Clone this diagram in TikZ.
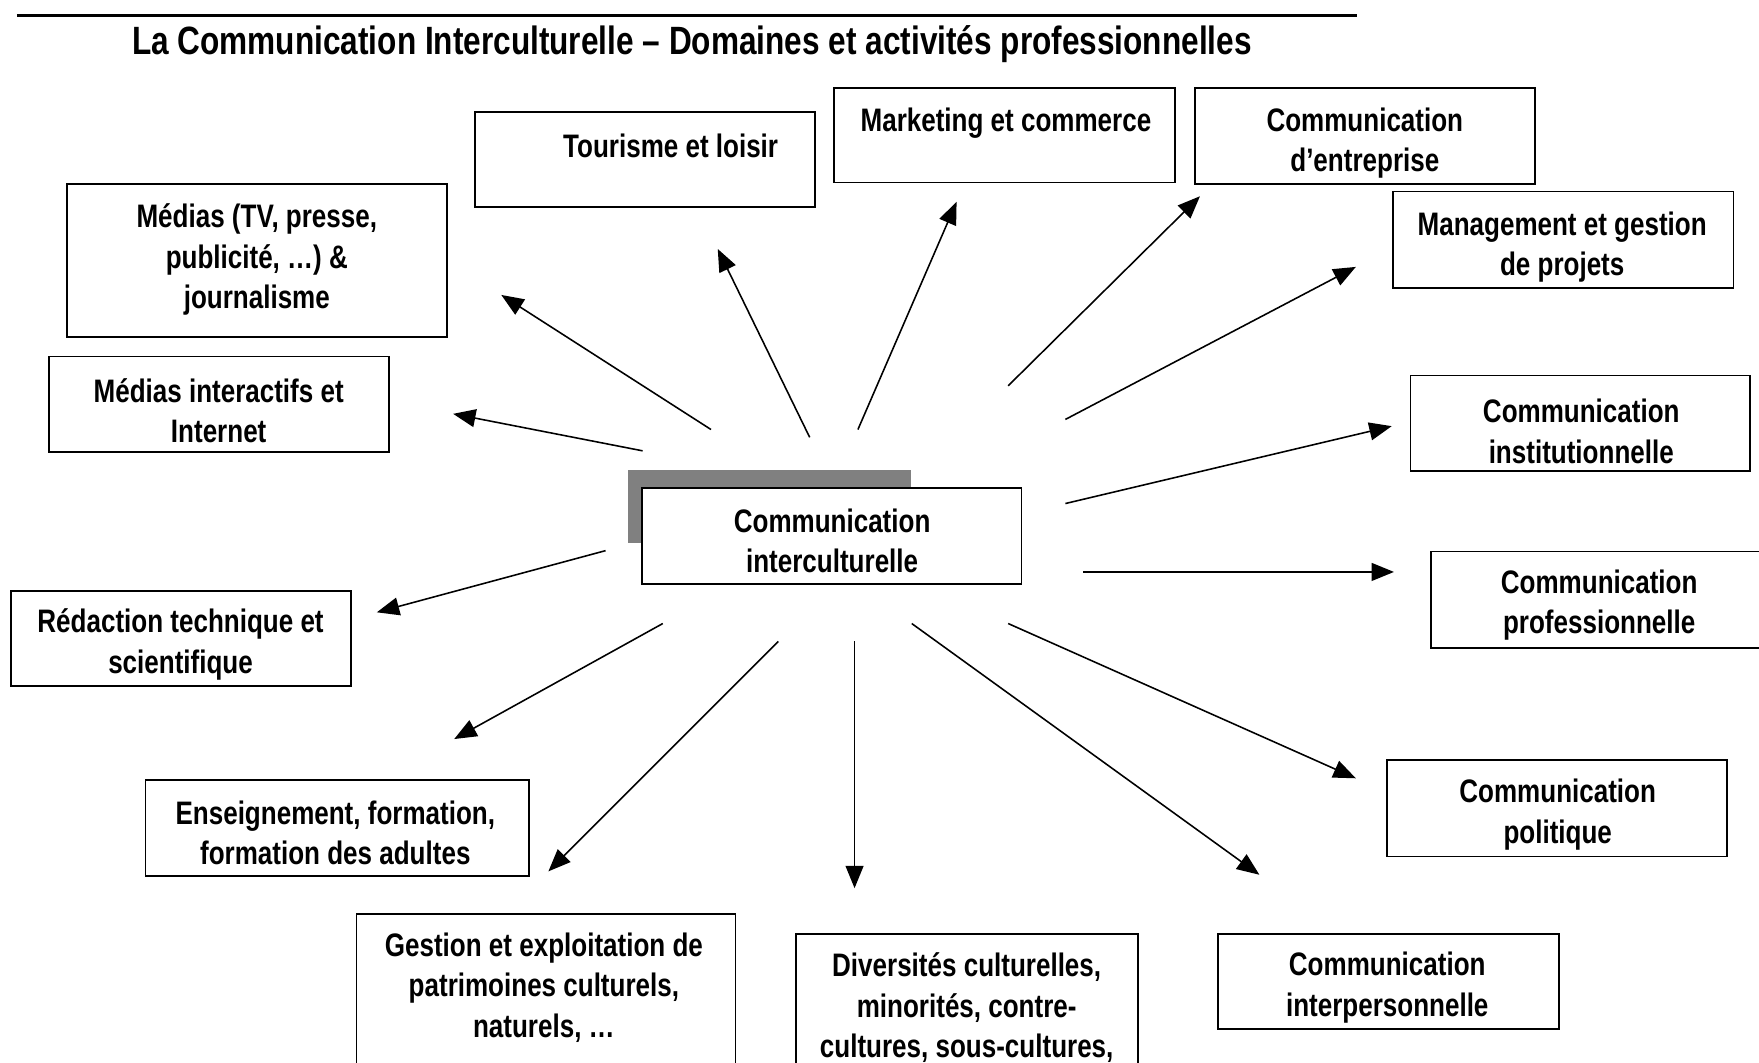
\documentclass[tikz,border=0pt]{standalone}
\usepackage{fontspec}
\setmainfont{Liberation Sans}[FakeStretch=0.80]
\usetikzlibrary{arrows.meta}
\tikzset{
  boxst/.style={draw, line width=0.8pt, fill=white, inner sep=0pt, anchor=north west},
  lbl/.style={font=\bfseries\fontsize{14.5}{18}\selectfont, align=center, inner sep=0pt, yshift=-1.25pt},
  titlest/.style={font=\bfseries\fontsize{17.6}{20}\selectfont, inner sep=0pt, yshift=-1pt},
  arr/.style={line width=0.7pt, -{Triangle[length=10pt,width=8pt]}},
}
\newcommand\mybox[5]{\node[boxst, minimum width={(#4-#2)*0.5pt}, minimum height={(#5-#3)*0.5pt}] (#1) at (#2,#3) {};}
\begin{document}
\begin{tikzpicture}[x=0.5pt,y=-0.5pt]
\useasboundingbox (0,0) rectangle (1568.5,947);
\clip (0,0) rectangle (1568.5,947);
% title
\coordinate (tl) at (15,14);
\coordinate (tr) at (1210,14);
\draw[line width=1.6pt] (tl) -- (tr);
\node[titlest] (title) at (617,37) {La Communication Interculturelle – Domaines et activités professionnelles};
% central node with shadow
\node[anchor=north west, fill=black!50, inner sep=0pt, minimum width={(812-560)*0.5pt}, minimum height={(484-419)*0.5pt}] (shadow) at (560,419) {};
\mybox{center}{572}{434}{910}{520}
\node[lbl] (tcenter) at (742,480) {Communication\\interculturelle};
% boxes
\mybox{tour}{423}{99}{726}{184}
\node[lbl] (ttour) at (598,128) {Tourisme et loisir};
\mybox{mark}{743}{78}{1047}{162}
\node[lbl] (tmark) at (897,107) {Marketing et commerce};
\mybox{entr}{1065}{78}{1368}{163}
\node[lbl] (tentr) at (1217,125) {Communication\\d’entreprise};
\mybox{medias}{59}{163}{398}{300}
\node[lbl] (tmedias) at (229,229) {Médias (TV, presse,\\publicité, …) \&\\journalisme};
\mybox{manag}{1241}{170}{1545}{256}
\node[lbl] (tmanag) at (1393,218) {Management et gestion\\de projets};
\mybox{inter}{43}{317}{346}{402}
\node[lbl] (tinter) at (195,364) {Médias interactifs et\\Internet};
\mybox{inst}{1257}{334}{1560}{419}
\node[lbl] (tinst) at (1410,382) {Communication\\institutionnelle};
\mybox{prof}{1275}{491}{1590}{577}
\node[lbl] (tprof) at (1426,537) {Communication\\professionnelle};
\mybox{redac}{9}{526}{312}{611}
\node[lbl] (tredac) at (161,572) {Rédaction technique et\\scientifique};
\mybox{polit}{1236}{677}{1539}{763}
\node[lbl] (tpolit) at (1389,724) {Communication\\politique};
\mybox{ens}{129}{695}{471}{780}
\node[lbl] (tens) at (299,740) {Enseignement, formation,\\formation des adultes};
\mybox{gest}{317}{814}{655}{970}
\node[lbl] (tgest) at (485,878) {Gestion et exploitation de\\patrimoines culturels,\\naturels, …};
\mybox{div}{709}{832}{1014}{970}
\node[lbl] (tdiv) at (862,896) {Diversités culturelles,\\minorités, contre-\\cultures, sous-cultures,};
\mybox{interp}{1085}{832}{1389}{917}
\node[lbl] (tinterp) at (1237,878) {Communication\\interpersonnelle};
% arrow end points
\coordinate (s1) at (722,390); \coordinate (e1) at (640,222);
\coordinate (s2) at (765,383); \coordinate (e2) at (853,180);
\coordinate (s3) at (899,344); \coordinate (e3) at (1070,175);
\coordinate (s4) at (634,383); \coordinate (e4) at (447,263);
\coordinate (s5) at (950,374); \coordinate (e5) at (1209,238);
\coordinate (s6) at (573,402); \coordinate (e6) at (404,369);
\coordinate (s7) at (950,449); \coordinate (e7) at (1241,380);
\coordinate (s8) at (966,510); \coordinate (e8) at (1243,510);
\coordinate (s9) at (540,491); \coordinate (e9) at (336,546);
\coordinate (s10) at (591,556); \coordinate (e10) at (405,659);
\coordinate (s11) at (694,572); \coordinate (e11) at (489,777);
\coordinate (s12) at (762,572); \coordinate (e12) at (762,792);
\coordinate (s13) at (813,556); \coordinate (e13) at (1123,780);
\coordinate (s14) at (899,556); \coordinate (e14) at (1209,694);
\foreach \i in {1,...,14} { \draw[arr] (s\i) -- (e\i); }
\end{tikzpicture}
\end{document}
